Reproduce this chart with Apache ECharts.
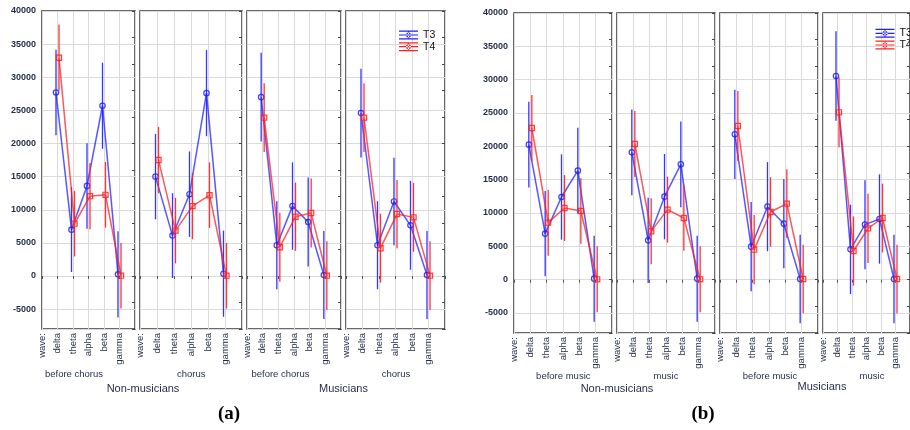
<!DOCTYPE html>
<html><head><meta charset="utf-8">
<script src="https://cdn.jsdelivr.net/npm/echarts@6/dist/echarts.min.js"></script>
<style>html,body{margin:0;padding:0;background:#fff}#c{width:910px;height:430px}</style>
</head><body><div id="c"></div>
<script>
// ---------- data ----------
const waves = ['wave:', 'delta', 'theta', 'alpha', 'beta', 'gamma', ''];
const seriesNames = ['T3', 'T4'];
const conditions = ['before chorus', 'chorus', 'before chorus', 'chorus', 'before music', 'music', 'before music', 'music'];
const groups = ['Non-musicians', 'Musicians', 'Non-musicians', 'Musicians'];
const figLabels = ['(a)', '(b)'];

// (a) means
const a_nm_before_T3 = [27700, 7000, 13600, 25700, 250];
const a_nm_before_T4 = [32950, 7900, 12050, 12250, 50];
const a_nm_chorus_T3 = [15000, 6100, 12350, 27600, 350];
const a_nm_chorus_T4 = [17500, 6850, 10550, 12200, 50];
const a_m_before_T3 = [27000, 4650, 10550, 8150, 150];
const a_m_before_T4 = [23900, 4350, 8950, 9500, 50];
const a_m_chorus_T3 = [24600, 4650, 11250, 7650, 150];
const a_m_chorus_T4 = [23900, 4200, 9350, 8850, 50];
// (b) means
const b_nm_before_T3 = [20250, 6900, 12400, 16350, 150];
const b_nm_before_T4 = [22750, 8550, 10750, 10300, 50];
const b_nm_music_T3 = [19100, 5900, 12450, 17300, 150];
const b_nm_music_T4 = [20350, 7250, 10500, 9250, 50];
const b_m_before_T3 = [21800, 4950, 10950, 8400, 100];
const b_m_before_T4 = [23050, 4500, 10150, 11400, 100];
const b_m_music_T3 = [30550, 4550, 8250, 9100, 100];
const b_m_music_T4 = [25100, 4300, 7700, 9250, 100];

// error half-widths
const errA_nm_T3 = [6450, 6400, 6450, 6500, 6500];
const errA_nm_T4 = [5000, 4950, 5000, 4950, 4950];
const errA_m_T3 = [6700, 6650, 6600, 6700, 6650];
const errA_m_T4 = [5200, 5200, 5150, 5200, 5200];
const errB_nm_T3 = [6430, 6400, 6400, 6430, 6450];
const errB_nm_T4 = [4950, 4950, 4950, 4900, 4950];
const errB_m_T3 = [6700, 6700, 6680, 6700, 6630];
const errB_m_T4 = [5250, 5200, 5200, 5150, 5150];

const panelData = [
  [a_nm_before_T3, errA_nm_T3, a_nm_before_T4, errA_nm_T4],
  [a_nm_chorus_T3, errA_nm_T3, a_nm_chorus_T4, errA_nm_T4],
  [a_m_before_T3, errA_m_T3, a_m_before_T4, errA_m_T4],
  [a_m_chorus_T3, errA_m_T3, a_m_chorus_T4, errA_m_T4],
  [b_nm_before_T3, errB_nm_T3, b_nm_before_T4, errB_nm_T4],
  [b_nm_music_T3, errB_nm_T3, b_nm_music_T4, errB_nm_T4],
  [b_m_before_T3, errB_m_T3, b_m_before_T4, errB_m_T4],
  [b_m_music_T3, errB_m_T3, b_m_music_T4, errB_m_T4]
];

// ---------- layout / style ----------
const layout = [
  {left: 42, top: 11, width: 93, height: 318},
  {left: 140, top: 11, width: 102, height: 318},
  {left: 247, top: 11, width: 94, height: 318},
  {left: 346, top: 11, width: 99, height: 318},
  {left: 514, top: 13, width: 98, height: 320},
  {left: 617, top: 13, width: 98, height: 320},
  {left: 720, top: 13, width: 98, height: 320},
  {left: 823, top: 13, width: 98, height: 320}
];
const condPos = [[74, 374], [191.3, 374], [280.5, 374], [396, 374], [563.3, 376], [666, 376], [770, 376], [872, 376]];
const groupPos = [[143, 389], [343.5, 389], [617, 389], [822, 387]];
const figPos = [[229, 414], [703, 414]];
const BLUE = '#1f1fff', RED = '#ff1f1f';
const TXT = '#1f2a44';
const FONT = "Arial, 'Liberation Sans', sans-serif";

function makeRender(means, color, dx, marker) {
  return function (params, api) {
    const i = params.dataIndex;
    const x = api.value(0), y = api.value(1), e = api.value(2);
    const p = api.coord([x, y]);
    const t = api.coord([x, y + e]);
    const b = api.coord([x, y - e]);
    const ch = [];
    if (i < means.length - 1) {
      const n = api.coord([x + 1, means[i + 1]]);
      ch.push({type: 'line', shape: {x1: p[0] + dx, y1: p[1], x2: n[0] + dx, y2: n[1]},
        style: {stroke: color, lineWidth: 1.5, opacity: 0.75}});
    }
    ch.push({type: 'line', shape: {x1: p[0] + dx, y1: t[1], x2: p[0] + dx, y2: b[1]},
      style: {stroke: color, lineWidth: 1.3, opacity: 0.9}});
    if (marker === 'circle') {
      ch.push({type: 'circle', shape: {cx: p[0] + dx, cy: p[1], r: 2.7},
        style: {stroke: color, fill: 'rgba(255,255,255,0)', lineWidth: 1.2, opacity: 0.85}});
    } else {
      ch.push({type: 'rect', shape: {x: p[0] + dx - 2.6, y: p[1] - 2.6, width: 5.2, height: 5.2},
        style: {stroke: color, fill: 'rgba(255,120,120,0.25)', lineWidth: 1.2, opacity: 0.85}});
    }
    return {type: 'group', children: ch};
  };
}

const grids = [], xAxes = [], yAxes = [], series = [];
layout.forEach((g, k) => {
  grids.push(Object.assign({show: true, borderColor: '#383838', borderWidth: 1.5, backgroundColor: 'transparent'}, g));
  xAxes.push({
    type: 'category', gridIndex: k, data: waves, boundaryGap: false,
    axisLine: {show: false},
    axisTick: {show: true, length: 3, interval: 0, lineStyle: {color: '#555'}},
    axisLabel: {interval: 0, rotate: 90, fontSize: 9.5, color: TXT, margin: 4, fontFamily: FONT},
    splitLine: {show: true, interval: 0, lineStyle: {color: '#dadada', width: 1}}
  });
  yAxes.push({
    type: 'value', gridIndex: k, position: 'left', min: -8000, max: 40000,
    splitNumber: 10, minInterval: 5000, maxInterval: 5000,
    axisLine: {show: false}, axisTick: {show: false},
    axisLabel: {show: k % 4 === 0, showMinLabel: false, fontSize: 9, fontWeight: 'bold', color: TXT, margin: 6, fontFamily: FONT,
      formatter: v => (v % 5000 === 0 ? String(v) : '')},
    splitLine: {show: true, lineStyle: {color: '#dadada', width: 1}}
  });
  yAxes.push({
    type: 'value', gridIndex: k, position: 'right', min: -8000, max: 40000, interval: 4000,
    axisLine: {show: false},
    axisTick: {show: true, inside: true, length: 3, lineStyle: {color: '#444'}},
    axisLabel: {show: false}, splitLine: {show: false}
  });
  const [m3, e3, m4, e4] = panelData[k];
  series.push({
    type: 'custom', name: seriesNames[0], xAxisIndex: k, yAxisIndex: 2 * k,
    itemStyle: {color: BLUE},
    data: m3.map((v, i) => [waves[i + 1], v, e3[i]]),
    renderItem: makeRender(m3, BLUE, -1.5, 'circle')
  });
  series.push({
    type: 'custom', name: seriesNames[1], xAxisIndex: k, yAxisIndex: 2 * k,
    itemStyle: {color: RED},
    data: m4.map((v, i) => [waves[i + 1], v, e4[i]]),
    renderItem: makeRender(m4, RED, 1.5, 'square')
  });
});

const ICON = 'path://M0 0H19V1.2H0Z M0 3.9H19V5.1H0Z M0 7.8H19V9H0Z M8.9 0H10.1V9H8.9Z M7 4.5A2.5 2.5 0 1 0 12 4.5A2.5 2.5 0 1 0 7 4.5Z';
function legendAt(left, top) {
  return {
    orient: 'vertical', left: left, top: top, padding: 0, itemWidth: 19, itemHeight: 9, itemGap: 0.7,
    selectedMode: false,
    textStyle: {fontSize: 10.5, color: '#111', fontFamily: FONT, lineHeight: 11},
    data: [
      {name: seriesNames[0], icon: ICON, itemStyle: {color: BLUE}},
      {name: seriesNames[1], icon: ICON, itemStyle: {color: RED}}
    ]
  };
}

const graphic = [];
conditions.forEach((c, k) => graphic.push({type: 'text', x: condPos[k][0], y: condPos[k][1],
  style: {text: c, align: 'center', verticalAlign: 'middle', font: '9.5px ' + FONT, fill: TXT}}));
groups.forEach((g, k) => graphic.push({type: 'text', x: groupPos[k][0], y: groupPos[k][1],
  style: {text: g, align: 'center', verticalAlign: 'middle', font: '11px ' + FONT, fill: TXT}}));
figLabels.forEach((f, k) => graphic.push({type: 'text', x: figPos[k][0], y: figPos[k][1],
  style: {text: f, align: 'center', verticalAlign: 'middle', font: "bold 19px 'Liberation Serif', 'Times New Roman', serif", fill: '#000'}}));

const chart = echarts.init(document.getElementById('c'), null, {renderer: 'canvas'});
chart.setOption({
  animation: false,
  backgroundColor: '#fff',
  grid: grids, xAxis: xAxes, yAxis: yAxes, series: series,
  legend: [legendAt(399, 29.5), legendAt(875.5, 27.8)],
  graphic: graphic
});
</script></body></html>
